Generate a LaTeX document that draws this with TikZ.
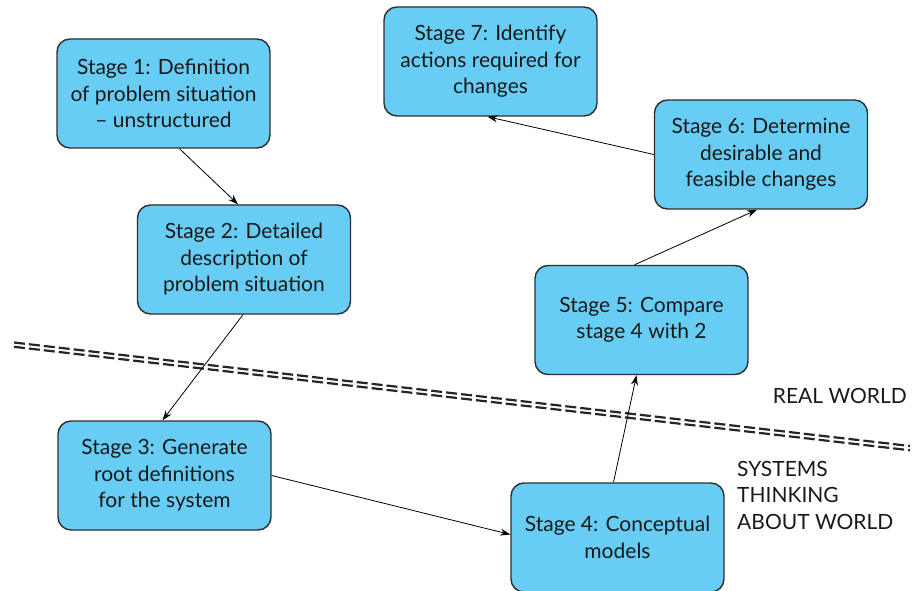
\documentclass[tikz,border=0pt]{standalone}
\usepackage{fontspec}
\setmainfont{Lato}
\usetikzlibrary{arrows.meta}
\definecolor{boxblue}{HTML}{67CDF5}
\definecolor{boxedge}{HTML}{2E2E2E}
\tikzset{
  stagebox/.style={draw=boxedge, line width=1.4pt, fill=boxblue, rounded corners=13pt,
    minimum width=213pt, minimum height=109pt, align=center, inner sep=2pt,
    font=\fontsize{21}{26.5}\selectfont, text=black!90},
  conn/.style={-{Stealth[length=10pt,width=7pt]}, line width=0.8pt},
  sep/.style={dash pattern=on 11pt off 4pt, line width=2.2pt, draw=black!85},
  lbl/.style={font=\fontsize{21}{26.5}\selectfont, text=black!90, inner sep=0pt}
}
\begin{document}
\begin{tikzpicture}[x=1pt,y=-1pt]
\useasboundingbox (0,0) rectangle (919,591);
% separator
\coordinate (la) at (14,342.5);
\coordinate (ra) at (910,446);
\coordinate (lb) at (14,346.8);
\coordinate (rb) at (910,450.3);
\draw[sep] (la) -- (ra);
\draw[sep] (lb) -- (rb);
\node[stagebox] (s1) at (163.5,93.5) {Stage 1: Definition\\of problem situation\\– unstructured};
\node[stagebox] (s2) at (244,259.5) {Stage 2: Detailed\\description of\\problem situation};
\node[stagebox] (s3) at (164.5,475.5) {Stage 3: Generate\\root definitions\\for the system};
\node[stagebox] (s4) at (617.5,537.5) {Stage 4: Conceptual\\models};
\node[stagebox] (s5) at (641.5,320) {Stage 5: Compare\\stage 4 with 2};
\node[stagebox] (s6) at (761,154.5) {Stage 6: Determine\\desirable and\\feasible changes};
\node[stagebox] (s7) at (490.5,61.5) {Stage 7: Identify\\actions required for\\changes};
\node[lbl, anchor=east] (rw) at (907,396) {REAL WORLD};
\node[lbl, anchor=north west, align=left] (st) at (737,461) {SYSTEMS\\THINKING\\ABOUT WORLD};
\draw[conn] ([xshift=16pt]s1.south) -- ([xshift=-6pt]s2.north);
\draw[conn] ([xshift=-1pt]s2.south) -- ([xshift=-2pt]s3.north);
\draw[conn] ([yshift=0pt]s3.east) -- ([yshift=3pt]s4.west);
\draw[conn] ([xshift=-4pt]s4.north) -- ([xshift=-5pt]s5.south);
\draw[conn] ([xshift=-7pt]s5.north) -- ([xshift=-4pt]s6.south);
\draw[conn] ([yshift=0pt]s6.west) -- ([xshift=-3pt]s7.south);
\end{tikzpicture}
\end{document}
